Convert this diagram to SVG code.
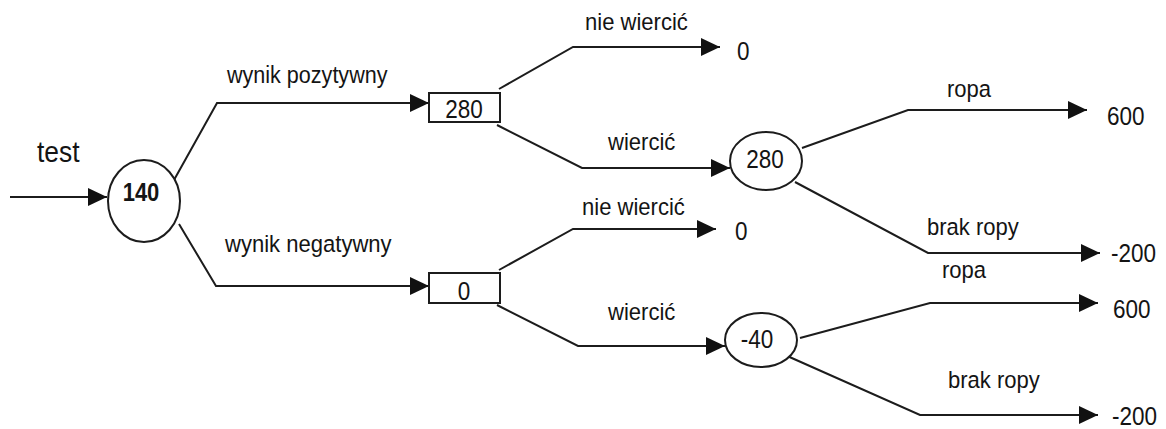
<svg xmlns="http://www.w3.org/2000/svg" width="1166" height="429" viewBox="0 0 1166 429">
  <style>
    .edge { fill: none; stroke: #1c1c1c; stroke-width: 2; marker-end: url(#arrow); }
    .node { fill: #ffffff; stroke: #1c1c1c; stroke-width: 2; }
    text { font-family: "Liberation Sans", Arial, sans-serif; fill: #141414; }
    .lbl { font-size: 24.5px; }
    .val { font-size: 25px; }
    .mid { text-anchor: middle; }
  </style>
  <defs>
    <marker id="arrow" viewBox="0 0 19 18" refX="19" refY="9" markerWidth="19" markerHeight="18" markerUnits="userSpaceOnUse" orient="auto">
      <path d="M0,0 L19,9 L0,18 Z" fill="#111111"/>
    </marker>
  </defs>
  <rect width="1166" height="429" fill="#ffffff"/>

  <!-- connectors -->
  <g id="connectors">
    <path class="edge" d="M10,197 H107"/>
    <path class="edge" d="M174,180 L217,103 H429"/>
    <path class="edge" d="M179,224 L216,286 H429"/>
    <path class="edge" d="M499,89 L573,47 H720"/>
    <path class="edge" d="M497,125 L582,168 H730"/>
    <path class="edge" d="M499,270 L573,229 H716"/>
    <path class="edge" d="M497,305 L578,346 H725"/>
    <path class="edge" d="M802,148 L908,110 H1087"/>
    <path class="edge" d="M795,182 L928,253 H1100"/>
    <path class="edge" d="M800,338 L930,303 H1098"/>
    <path class="edge" d="M785,355 L920,415 H1098"/>
  </g>

  <!-- branch labels (narrow glyphs: horizontal scale 0.9) -->
  <g id="labels">
    <text transform="translate(37,162) scale(0.88,1)" style="font-size:30px">test</text>
    <text class="lbl" transform="translate(227,83) scale(0.88,1)">wynik pozytywny</text>
    <text class="lbl" transform="translate(225,252) scale(0.9,1)">wynik negatywny</text>
    <text class="lbl" transform="translate(585,30) scale(0.9,1)">nie wiercić</text>
    <text class="lbl" transform="translate(608,150) scale(0.9,1)">wiercić</text>
    <text class="lbl" transform="translate(582,215) scale(0.9,1)">nie wiercić</text>
    <text class="lbl" transform="translate(608,320) scale(0.9,1)">wiercić</text>
    <text class="lbl" transform="translate(947,97) scale(0.9,1)">ropa</text>
    <text class="lbl" transform="translate(927,235) scale(0.9,1)">brak ropy</text>
    <text class="lbl" transform="translate(942,278) scale(0.9,1)">ropa</text>
    <text class="lbl" transform="translate(948,388) scale(0.9,1)">brak ropy</text>
  </g>

  <!-- decision / chance nodes -->
  <g id="n-test">
    <ellipse class="node" cx="144" cy="201" rx="36" ry="41"/>
    <text class="mid" transform="translate(141,201) scale(0.88,1)" font-size="25" font-weight="bold">140</text>
  </g>
  <g id="n-positive">
    <rect class="node" x="429" y="93" width="71" height="29"/>
    <text class="val mid" transform="translate(464,118) scale(0.9,1)">280</text>
  </g>
  <g id="n-negative">
    <rect class="node" x="429" y="273" width="71" height="30"/>
    <text class="val mid" transform="translate(464,300) scale(0.9,1)">0</text>
  </g>
  <g id="n-drill-positive">
    <ellipse class="node" cx="766" cy="161" rx="36" ry="29"/>
    <text class="val mid" transform="translate(765,168) scale(0.9,1)">280</text>
  </g>
  <g id="n-drill-negative">
    <ellipse class="node" cx="761" cy="340" rx="36" ry="27"/>
    <text class="val mid" transform="translate(757,348) scale(0.9,1)">-40</text>
  </g>

  <!-- payoffs -->
  <g id="payoffs">
    <text class="val" transform="translate(737,60) scale(0.9,1)">0</text>
    <text class="val" transform="translate(735,240) scale(0.9,1)">0</text>
    <text class="val" transform="translate(1107,125) scale(0.9,1)">600</text>
    <text class="val" transform="translate(1111,262) scale(0.9,1)">-200</text>
    <text class="val" transform="translate(1113,318) scale(0.9,1)">600</text>
    <text class="val" transform="translate(1112,425) scale(0.9,1)">-200</text>
  </g>
</svg>
